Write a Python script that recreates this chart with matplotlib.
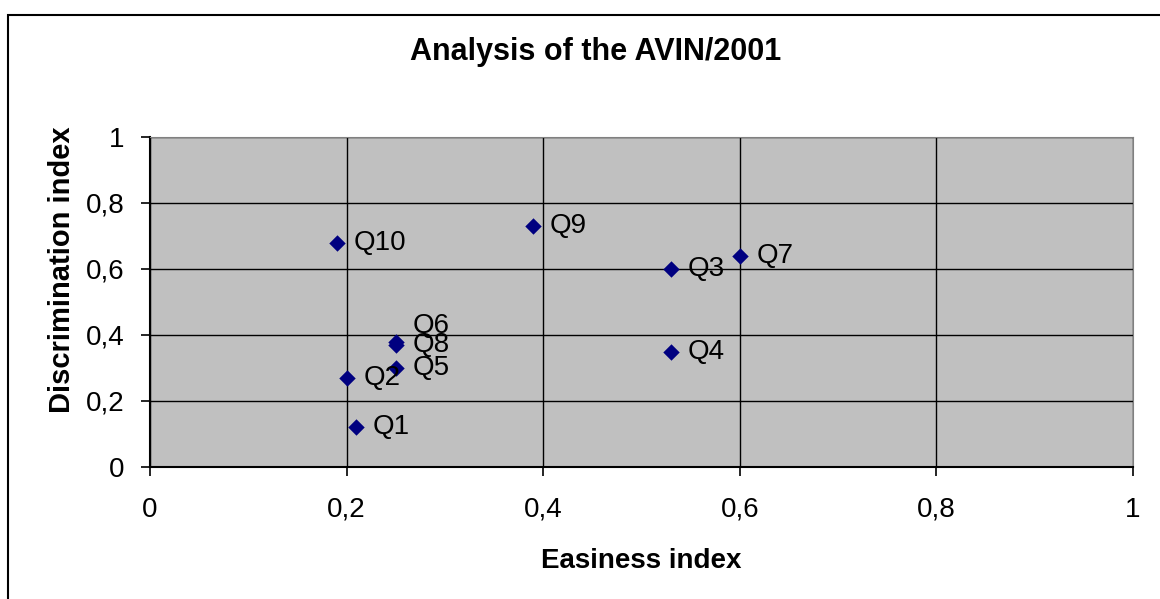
import numpy as np
import matplotlib.pyplot as plt
from matplotlib.patches import Rectangle

plt.rcParams['font.family'] = ['Liberation Sans', 'DejaVu Sans']

# data
questions  = ['Q1', 'Q2', 'Q3', 'Q4', 'Q5', 'Q6', 'Q7', 'Q8', 'Q9', 'Q10']
easiness   = [0.21, 0.20, 0.53, 0.53, 0.25, 0.25, 0.60, 0.25, 0.39, 0.19]
discrimin  = [0.12, 0.27, 0.60, 0.35, 0.30, 0.38, 0.64, 0.37, 0.73, 0.68]
ticks      = [0, 0.2, 0.4, 0.6, 0.8, 1]
tick_names = ['0', '0,2', '0,4', '0,6', '0,8', '1']

W, H = 1160, 599
fig = plt.figure( figsize = ( W / 100, H / 100 ), dpi = 100 )

# outer chart frame (runs off the right and bottom edges)
fig.patches.append( Rectangle(
    ( 8 / W, -0.1 ), 1.2, 1 - 15 / H + 0.1,
    transform = fig.transFigure, fill = False,
    edgecolor = 'black', linewidth = 1.5
) )

ax = fig.add_axes( [ 150 / W, 1 - 467 / H, 983 / W, 330 / H ] )
ax.set_facecolor( '#C0C0C0' )

ax.scatter( easiness, discrimin, marker = 'D', s = 70,
            color = '#000080', zorder = 3, linewidths = 0 )

# Q6 label sits a bit higher in the original so it does not hide Q8
label_dy = { 'Q6': 11 }
for q, x, y in zip( questions, easiness, discrimin ):
    ax.annotate( q, ( x, y ), xytext = ( 12, label_dy.get( q, 0 ) ),
                 textcoords = 'offset points',
                 va = 'center', ha = 'left', fontsize = 20, zorder = 4 )

ax.set_xlim( 0, 1 )
ax.set_ylim( 0, 1 )
ax.set_xticks( ticks )
ax.set_xticklabels( tick_names )
ax.set_yticks( ticks )
ax.set_yticklabels( tick_names )
ax.grid( True, color = 'black', linewidth = 1 )
ax.set_axisbelow( True )
ax.tick_params( axis = 'both', direction = 'out', length = 6.5, width = 1.2,
                labelsize = 20 )
ax.tick_params( axis = 'x', pad = 15 )
ax.tick_params( axis = 'y', pad = 12 )

for side in [ 'top', 'right' ]:
    ax.spines[ side ].set_color( '#808080' )
for side in [ 'left', 'bottom' ]:
    ax.spines[ side ].set_linewidth( 1.5 )

ax.set_xlabel( 'Easiness index', fontsize = 20, fontweight = 'bold', labelpad = 18 )
ax.set_ylabel( 'Discrimination index', fontsize = 21, fontweight = 'bold',
               va = 'center' )
ax.yaxis.set_label_coords( ( 62 - 150 ) / 983, ( 467 - 270 ) / 330 )
fig.text( 596 / W, 1 - 52 / H, 'Analysis of the AVIN/2001',
          ha = 'center', va = 'center', fontsize = 22, fontweight = 'bold' )

fig.savefig( 'out.png', dpi = 100 )
